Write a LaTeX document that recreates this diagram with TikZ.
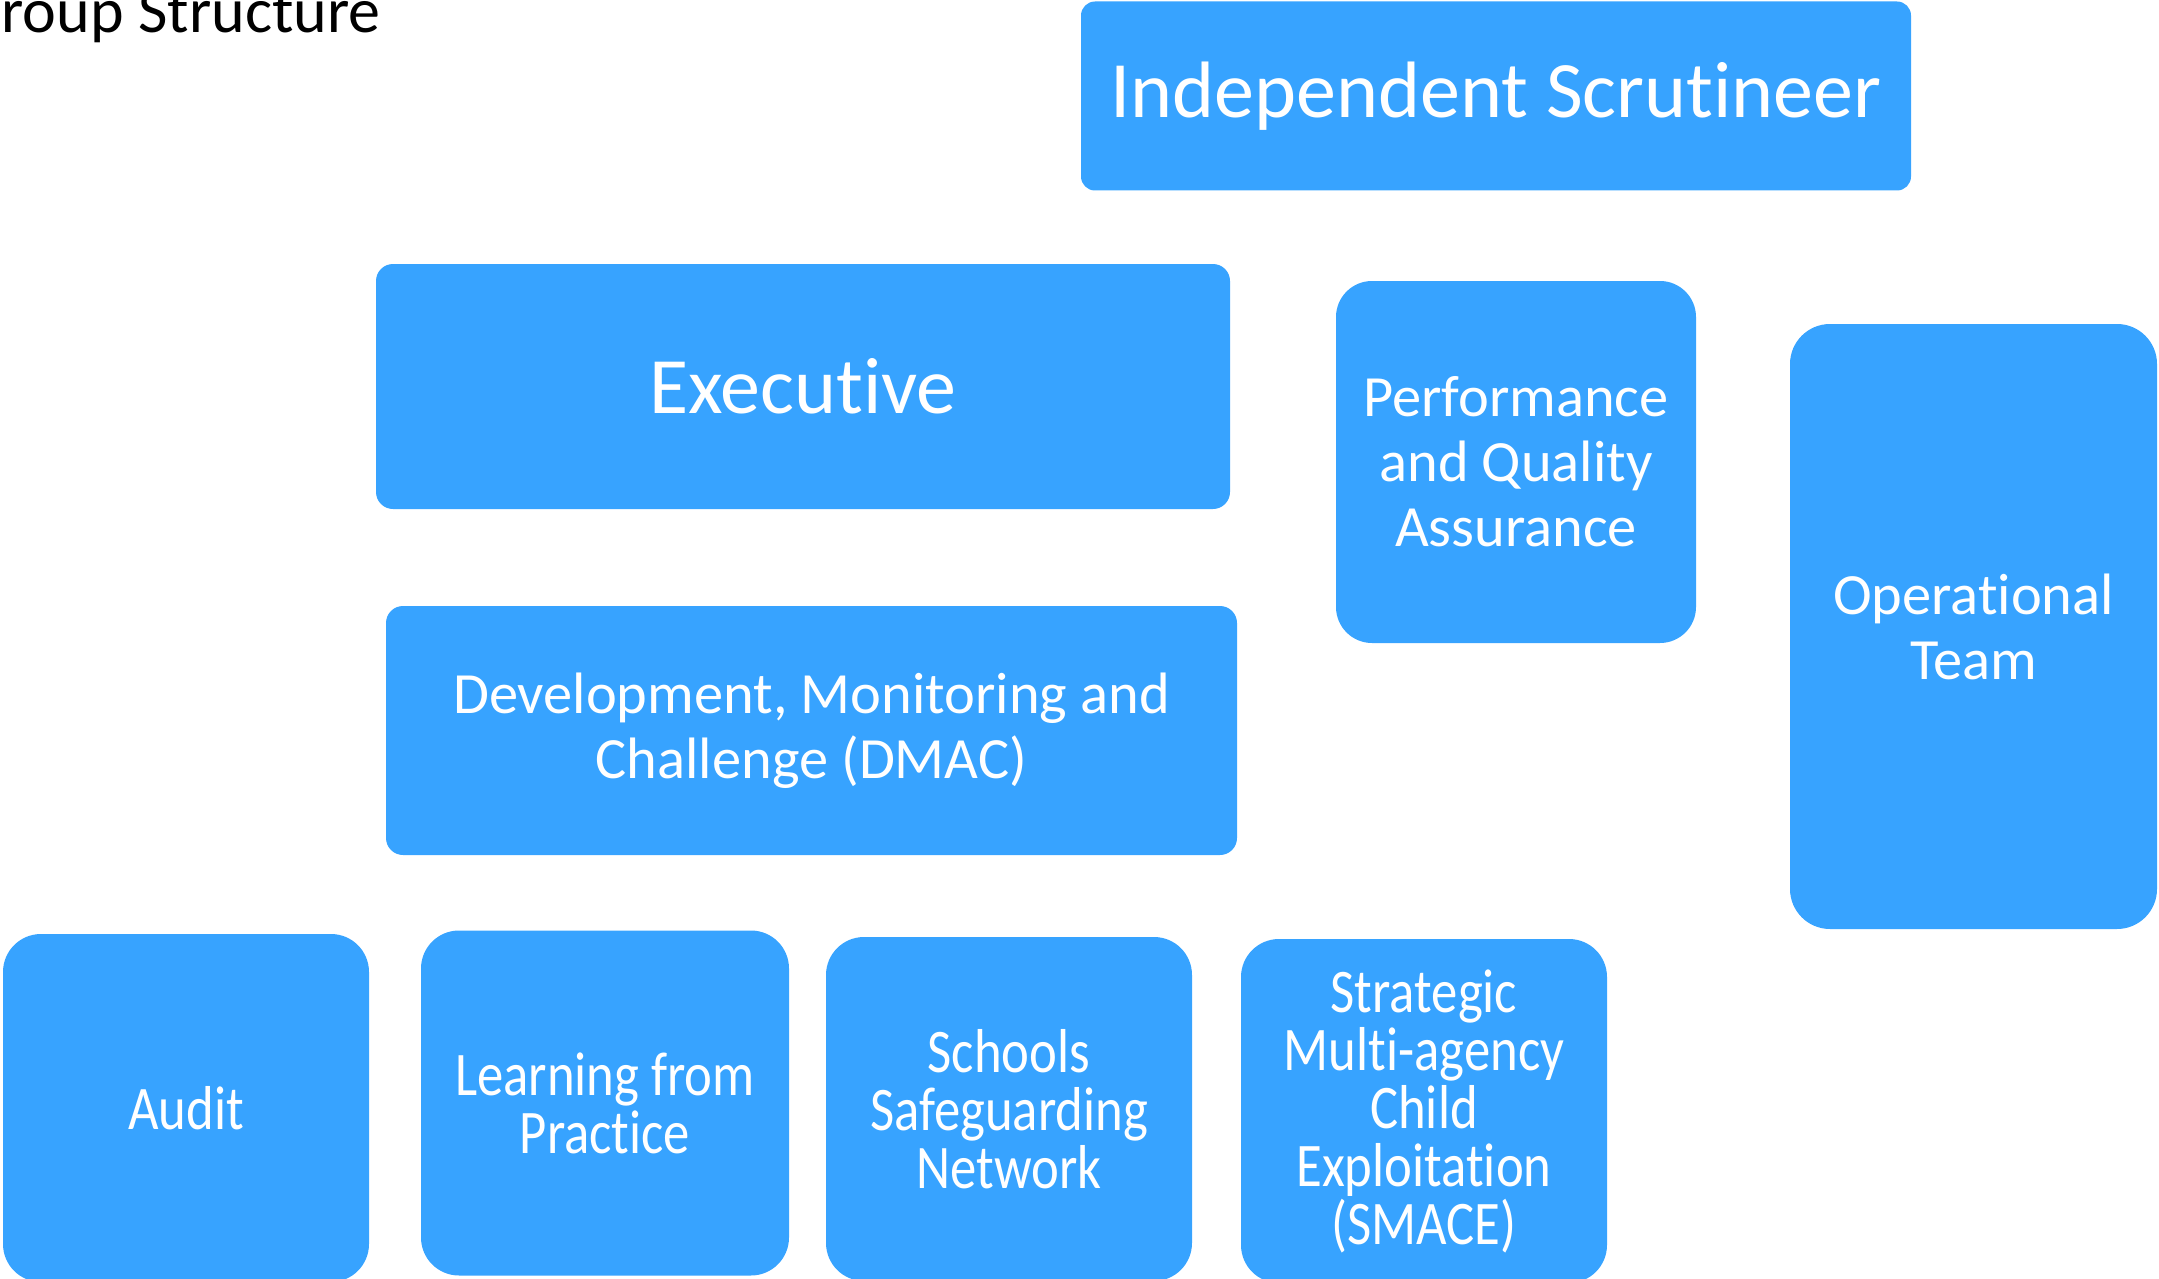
\documentclass[tikz,border=0pt]{standalone}
\usepackage{fontspec}
\setmainfont[Ligatures={NoCommon,NoContextual}]{Carlito}
\newfontfamily\narrowfont[Ligatures={NoCommon,NoContextual}, FakeStretch=0.85]{Carlito}
\usepackage{xcolor}
\usepackage{tikz}
\usetikzlibrary{positioning}

\definecolor{boxblue}{HTML}{37A3FF}

\begin{document}
\begin{tikzpicture}[
  x=0.5pt, y=-0.5pt,
  every node/.style={inner sep=0pt, align=center},
  box/.style={fill=boxblue, text=white, rounded corners=#1},
  box/.default=8pt,
  big/.style={font=\fontsize{40}{48}\selectfont},
  mid/.style={font=\fontsize{29.2}{32.5}\selectfont},
  small/.style={font=\narrowfont\fontsize{31}{29}\selectfont}
]
  \clip (0,0) rectangle (2159,1279);
  \useasboundingbox (0,0) rectangle (2159,1279);

  \node[anchor=base east, font=\fontsize{32}{38}\selectfont] (title) at (381,33) {Group Structure};

  \node[box=7pt, big, minimum width=415pt, minimum height=94.5pt] (scrut) at (1496,96) {Independent Scrutineer};
  \node[box=8.5pt, big, minimum width=427pt, minimum height=122.5pt] (exec) at (803,386.5) {Executive};
  \node[box=18pt, mid, minimum width=180pt, minimum height=181pt] (perf) at (1516,462) {Performance\\and Quality\\Assurance};
  \node[box=20pt, mid, minimum width=183.5pt, minimum height=302.5pt] (oper) at (1973.5,626.5) {Operational\\Team};
  \node[box=8.5pt, mid, minimum width=425.5pt, minimum height=124.5pt] (dmac) at (811.5,730.5) {Development, Monitoring and\\Challenge (DMAC)};

  % bottom row
  \node[box=19pt, small, minimum width=183pt, minimum height=174pt] (audit) at (186,1108) {Audit};
  \node[box=19pt, small, minimum width=184pt, minimum height=172.5pt] (lfp) at (605,1103) {Learning from\\Practice};
  \node[box=19pt, small, minimum width=183pt, minimum height=172pt] (ssn) at (1009,1109) {Schools\\Safeguarding\\Network};
  \node[box=19pt, small, minimum width=183pt, minimum height=172pt] (smace) at (1424,1111) {Strategic\\Multi-agency\\Child\\Exploitation\\(SMACE)};
\end{tikzpicture}
\end{document}
